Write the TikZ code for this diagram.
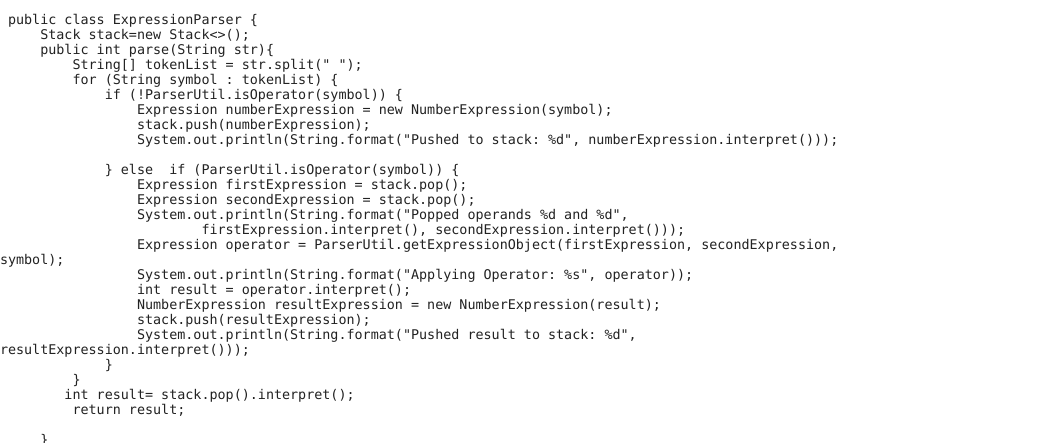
\documentclass[tikz,border=0pt]{standalone}
\usepackage{fontspec}
\setmonofont{DejaVu Sans Mono}
\definecolor{codetext}{RGB}{34,34,34}
\begin{document}
\begin{tikzpicture}[x=1pt,y=-1pt,
  codeline/.style={anchor=base west, inner sep=0pt, outer sep=0pt, text=codetext,
    font=\ttfamily\fontsize{13.39pt}{15pt}\selectfont}]
\fill[white] (0,0) rectangle (1040,442);
\useasboundingbox (0,0) rectangle (1040,442);
\clip (0,0) rectangle (1040,442);
\def\cw{8.06}
\node[codeline] (l1)  at (1*\cw,24)  {public class ExpressionParser \{};
\node[codeline] (l2)  at (5*\cw,39)  {Stack stack=new Stack<>();};
\node[codeline] (l3)  at (5*\cw,54)  {public int parse(String str)\{};
\node[codeline] (l4)  at (9*\cw,69)  {String[] tokenList = str.split(" ");};
\node[codeline] (l5)  at (9*\cw,84)  {for (String symbol : tokenList) \{};
\node[codeline] (l6)  at (13*\cw,99) {if (!ParserUtil.isOperator(symbol)) \{};
\node[codeline] (l7)  at (17*\cw,114) {Expression numberExpression = new NumberExpression(symbol);};
\node[codeline] (l8)  at (17*\cw,129) {stack.push(numberExpression);};
\node[codeline] (l9)  at (17*\cw,144) {System.out.println(String.format("Pushed to stack: \%d", numberExpression.interpret()));};
\node[codeline] (l11) at (13*\cw,174) {\} else\ \ if (ParserUtil.isOperator(symbol)) \{};
\node[codeline] (l12) at (17*\cw,189) {Expression firstExpression = stack.pop();};
\node[codeline] (l13) at (17*\cw,204) {Expression secondExpression = stack.pop();};
\node[codeline] (l14) at (17*\cw,219) {System.out.println(String.format("Popped operands \%d and \%d",};
\node[codeline] (l15) at (25*\cw,234) {firstExpression.interpret(), secondExpression.interpret()));};
\node[codeline] (l16) at (17*\cw,249) {Expression operator = ParserUtil.getExpressionObject(firstExpression, secondExpression,};
\node[codeline] (l17) at (0,264)      {symbol);};
\node[codeline] (l18) at (17*\cw,279) {System.out.println(String.format("Applying Operator: \%s", operator));};
\node[codeline] (l19) at (17*\cw,294) {int result = operator.interpret();};
\node[codeline] (l20) at (17*\cw,309) {NumberExpression resultExpression = new NumberExpression(result);};
\node[codeline] (l21) at (17*\cw,324) {stack.push(resultExpression);};
\node[codeline] (l22) at (17*\cw,339) {System.out.println(String.format("Pushed result to stack: \%d",};
\node[codeline] (l23) at (0,354)      {resultExpression.interpret()));};
\node[codeline] (l24) at (13*\cw,369) {\}};
\node[codeline] (l25) at (9*\cw,384)  {\}};
\node[codeline] (l26) at (8*\cw,399)  {int result= stack.pop().interpret();};
\node[codeline] (l27) at (9*\cw,414)  {return result;};
\node[codeline] (l29) at (5*\cw,444)  {\}};
\end{tikzpicture}
\end{document}
